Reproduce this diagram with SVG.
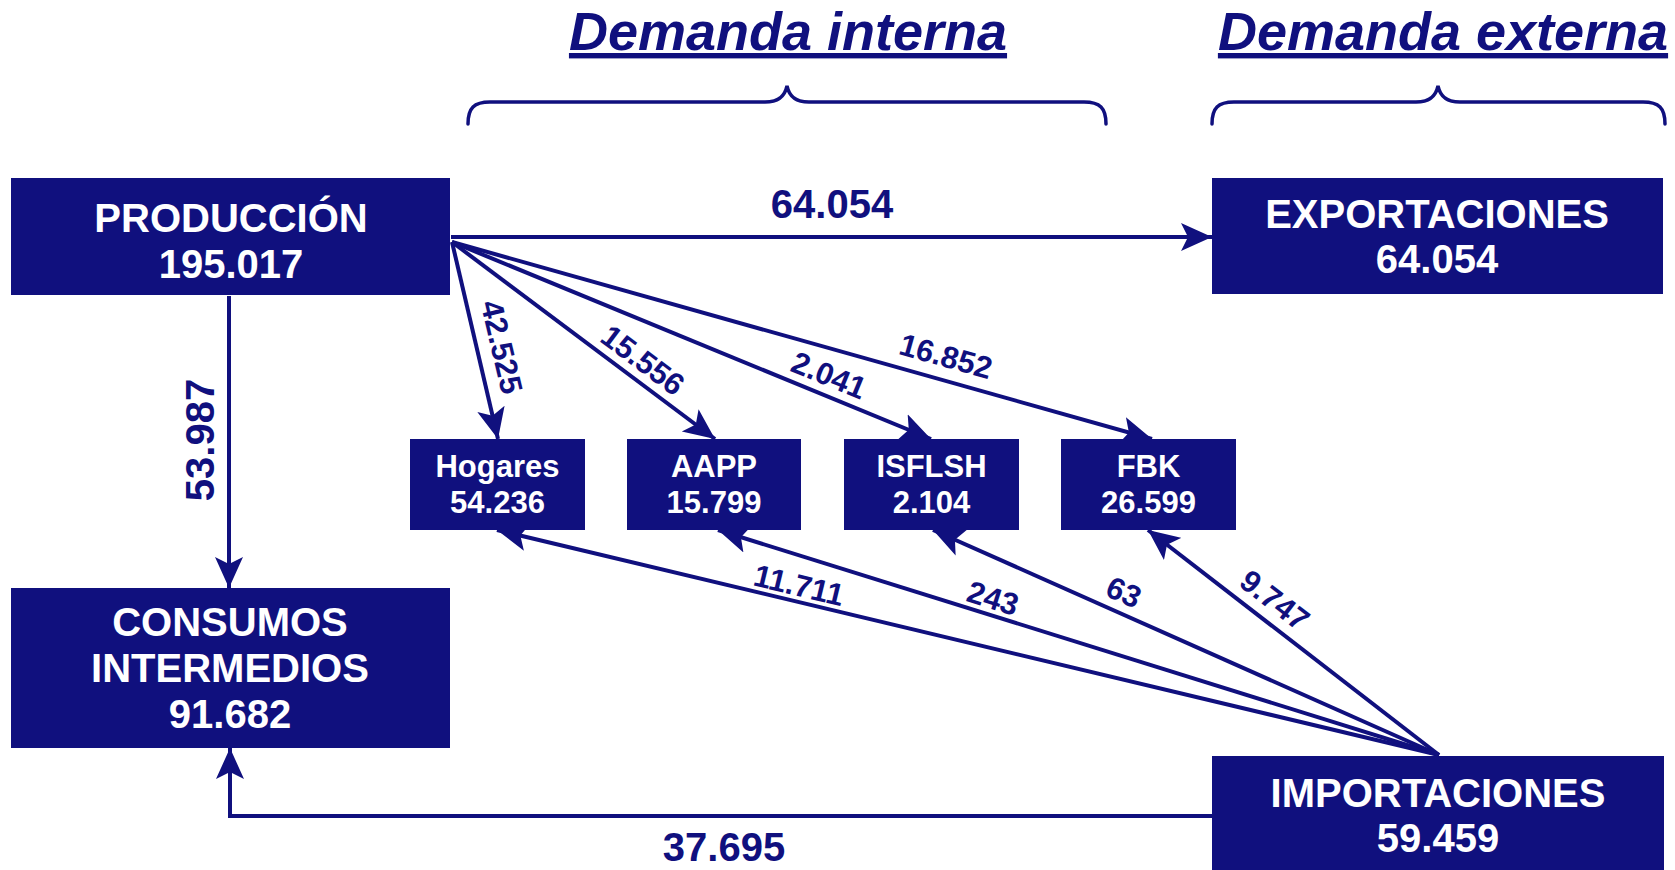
<svg xmlns="http://www.w3.org/2000/svg" width="1675" height="870" viewBox="0 0 1675 870">
  <defs>
    <style>
      .box { fill: #10107e; }
      .bt { font-family: "Liberation Sans", Arial, sans-serif; font-weight: bold; fill: #ffffff; text-anchor: middle; }
      .big { font-size: 40px; }
      .small { font-size: 31px; }
      .lbl { font-family: "Liberation Sans", Arial, sans-serif; font-weight: bold; fill: #10107e; text-anchor: middle; }
      .lbig { font-size: 40px; }
      .lsm { font-size: 31px; }
      .edge { stroke: #10107e; stroke-width: 4; fill: none; }
      .brace { stroke: #10107e; stroke-width: 3.5; fill: none; stroke-linecap: round; }
      .head { font-family: "Liberation Sans", Arial, sans-serif; font-weight: bold; font-style: italic; font-size: 54px; fill: #10107e; text-anchor: middle; text-decoration: underline; }
    </style>
    <marker id="arr" markerUnits="userSpaceOnUse" markerWidth="34" markerHeight="30" refX="31" refY="15" orient="auto">
      <path d="M0,1 L31,15 L0,29 L7,15 Z" fill="#10107e"/>
    </marker>
  </defs>
  <rect width="1675" height="870" fill="#ffffff"/>

  <g id="headings">
    <text class="head" x="788" y="50">Demanda interna</text>
    <text class="head" x="1443" y="50">Demanda externa</text>
    <path class="brace" d="M468,124 C468,108 474,102 490,102 L765,102 C780,102 785,95 787,86 C789,95 794,102 809,102 L1084,102 C1100,102 1106,108 1106,124"/>
    <path class="brace" d="M1212,124 C1212,108 1218,102 1234,102 L1416,102 C1431,102 1436,95 1438,86 C1440,95 1445,102 1460,102 L1643,102 C1659,102 1665,108 1665,124"/>
  </g>

  <g id="connectors">
    <line class="edge" x1="451" y1="237" x2="1212" y2="237" marker-end="url(#arr)"/>
    <line class="edge" x1="229" y1="296" x2="229" y2="588" marker-end="url(#arr)"/>
    <line class="edge" x1="452" y1="242" x2="498" y2="439" marker-end="url(#arr)"/>
    <line class="edge" x1="452" y1="242" x2="715" y2="439" marker-end="url(#arr)"/>
    <line class="edge" x1="452" y1="242" x2="931" y2="439" marker-end="url(#arr)"/>
    <line class="edge" x1="452" y1="242" x2="1152" y2="439" marker-end="url(#arr)"/>
    <polyline class="edge" points="1212,816 230,816 230,748" marker-end="url(#arr)"/>
    <line class="edge" x1="1439" y1="755" x2="497" y2="530" marker-end="url(#arr)"/>
    <line class="edge" x1="1439" y1="755" x2="718" y2="530" marker-end="url(#arr)"/>
    <line class="edge" x1="1439" y1="755" x2="933" y2="530" marker-end="url(#arr)"/>
    <line class="edge" x1="1439" y1="755" x2="1148" y2="530" marker-end="url(#arr)"/>

    <text class="lbl lbig" x="832" y="218">64.054</text>
    <text class="lbl lbig" transform="translate(200,440) rotate(-90)" y="14">53.987</text>
    <text class="lbl lbig" x="724" y="861">37.695</text>
    <text class="lbl lsm" transform="translate(502,347) rotate(76.8)" y="11">42.525</text>
    <text class="lbl lsm" transform="translate(643,360) rotate(36.7)" y="11">15.556</text>
    <text class="lbl lsm" transform="translate(829,375) rotate(22.3)" y="11">2.041</text>
    <text class="lbl lsm" transform="translate(946,356) rotate(15.7)" y="11">16.852</text>
    <text class="lbl lsm" transform="translate(799,585) rotate(13.4)" y="11">11.711</text>
    <text class="lbl lsm" transform="translate(993,598) rotate(17.3)" y="11">243</text>
    <text class="lbl lsm" transform="translate(1124,592) rotate(23.9)" y="11">63</text>
    <text class="lbl lsm" transform="translate(1275,600) rotate(37.6)" y="11">9.747</text>
  </g>

  <g id="produccion">
    <rect class="box" x="11" y="178" width="439" height="117"/>
    <text class="bt big" x="231" y="232">PRODUCCIÓN</text>
    <text class="bt big" x="231" y="278">195.017</text>
  </g>
  <g id="exportaciones">
    <rect class="box" x="1212" y="178" width="451" height="116"/>
    <text class="bt big" x="1437" y="228">EXPORTACIONES</text>
    <text class="bt big" x="1437" y="273">64.054</text>
  </g>
  <g id="consumos">
    <rect class="box" x="11" y="588" width="439" height="160"/>
    <text class="bt big" x="230" y="636">CONSUMOS</text>
    <text class="bt big" x="230" y="682">INTERMEDIOS</text>
    <text class="bt big" x="230" y="728">91.682</text>
  </g>
  <g id="importaciones">
    <rect class="box" x="1212" y="756" width="452" height="114"/>
    <text class="bt big" x="1438" y="807">IMPORTACIONES</text>
    <text class="bt big" x="1438" y="852">59.459</text>
  </g>
  <g id="hogares">
    <rect class="box" x="410" y="439" width="175" height="91"/>
    <text class="bt small" x="497.5" y="477">Hogares</text>
    <text class="bt small" x="497.5" y="513">54.236</text>
  </g>
  <g id="aapp">
    <rect class="box" x="627" y="439" width="174" height="91"/>
    <text class="bt small" x="714" y="477">AAPP</text>
    <text class="bt small" x="714" y="513">15.799</text>
  </g>
  <g id="isflsh">
    <rect class="box" x="844" y="439" width="175" height="91"/>
    <text class="bt small" x="931.5" y="477">ISFLSH</text>
    <text class="bt small" x="931.5" y="513">2.104</text>
  </g>
  <g id="fbk">
    <rect class="box" x="1061" y="439" width="175" height="91"/>
    <text class="bt small" x="1148.5" y="477">FBK</text>
    <text class="bt small" x="1148.5" y="513">26.599</text>
  </g>
</svg>
